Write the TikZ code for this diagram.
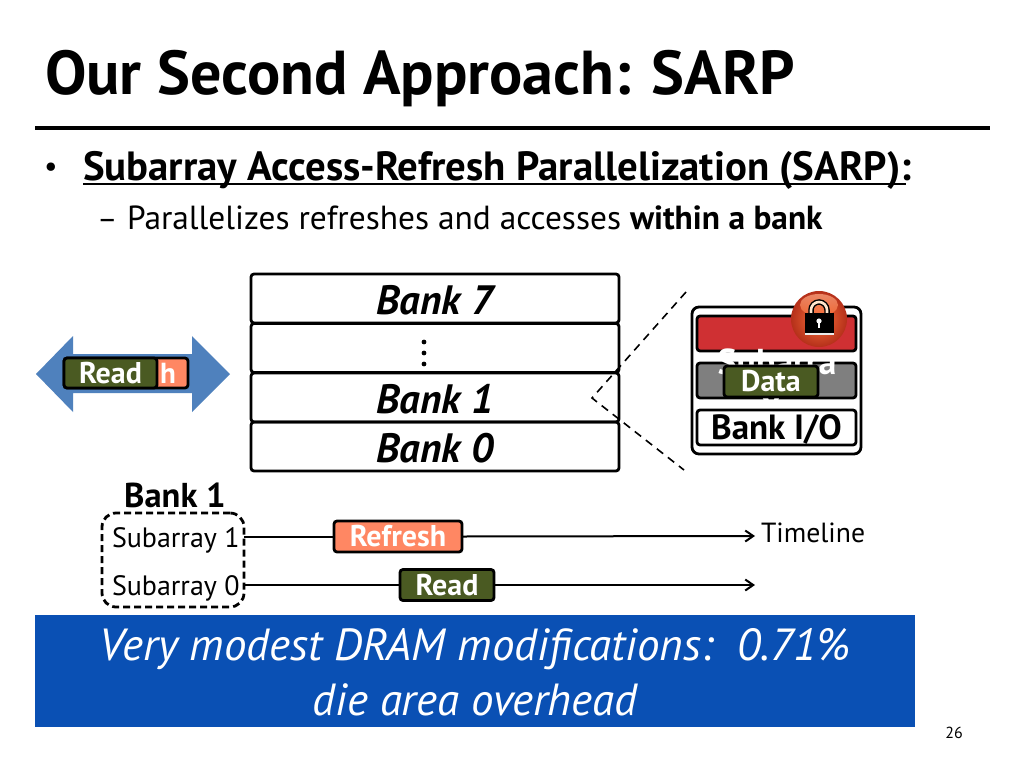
\documentclass[tikz,border=0pt]{standalone}
\usepackage{fontspec}
\setmainfont{PT Sans}
\usetikzlibrary{arrows.meta,shadings}
\definecolor{tealblue}{HTML}{0A50B4}
\definecolor{arrowblue}{HTML}{4F81BD}
\definecolor{readgreen}{HTML}{4A5A22}
\definecolor{refreshor}{HTML}{FF8763}
\definecolor{lockred}{HTML}{CF3033}
\definecolor{grayband}{HTML}{7F7F7F}
\definecolor{ballin}{HTML}{F8703A}
\definecolor{ballout}{HTML}{B5301A}
\tikzset{
  box/.style={draw=black,line width=2.8pt,rounded corners=3pt,inner sep=0pt,outer sep=0pt,align=center},
  bankbox/.style={box,minimum width=368pt,minimum height=49pt,font=\fontsize{41}{41}\selectfont\bfseries\itshape},
  banklabel/.style={inner sep=0pt,outer sep=0pt,font=\fontsize{41}{41}\selectfont\bfseries\itshape},
  tag/.style={box,text=white,font=\fontsize{30}{30}\selectfont\bfseries,minimum height=31pt},
  sub/.style={inner sep=0pt,outer sep=0pt,font=\fontsize{28}{28}\selectfont},
  cell/.style={box,minimum width=159pt,minimum height=35pt},
  tline/.style={line width=2pt,-{Straight Barb[length=8pt,width=11pt]}},
  bline/.style={line width=2pt},
  plain/.style={inner sep=0pt,outer sep=0pt}
}
\begin{document}
\begin{tikzpicture}[x=1pt,y=-1pt]
\useasboundingbox (0,0) rectangle (1024,768);
\fill[white] (0,0) rectangle (1024,768);
% header
\node[plain,anchor=base west] (title) at (45,94) {\fontsize{62}{62}\selectfont\bfseries Our Second Approach: SARP};
\coordinate (ruleL) at (35,128); \coordinate (ruleR) at (990,128);
\draw[line width=3.5pt] (ruleL) -- (ruleR);
\node[plain] (bullet) at (51,170) {\fontsize{30}{30}\selectfont •};
\node[plain,anchor=base west] (head) at (83,180) {\fontsize{40.8}{40.8}\selectfont\bfseries Subarray Access-Refresh Parallelization (SARP):};
\coordinate (ulL) at (83,184); \coordinate (ulR) at (906,184);
\draw[line width=2.5pt] (ulL) -- (ulR);
\node[plain,anchor=base west] (dash) at (97,229) {\fontsize{31}{31}\selectfont –};
\node[plain,anchor=base west] (subhead) at (127,229) {\fontsize{33.4}{33.4}\selectfont Parallelizes refreshes and accesses \textbf{within a bank}};
% double arrow
\fill[arrowblue] (36,374) -- (73,336) -- (73,354) -- (192,354) -- (192,336) -- (230,374) -- (192,412) -- (192,393) -- (73,393) -- (73,412) -- cycle;
\node[tag,fill=refreshor,minimum width=124pt,minimum height=30pt,anchor=center] (rfl) at (126,373) {\hspace*{84pt}\fontsize{29}{29}\selectfont h};
\node[tag,fill=readgreen,minimum width=93pt,minimum height=30pt] (rdl) at (110.5,373) {Read};
% banks
\node[bankbox] (b7) at (435,298.5) {};
\node[bankbox] (bd) at (435,348) {};
\node[bankbox] (b1) at (435,397.5) {};
\node[bankbox] (b0) at (435,446.5) {};
\node[banklabel] (t7) at (435,300.5) {Bank 7};
\node[banklabel] (t1) at (435,399.5) {Bank 1};
\node[banklabel] (t0) at (435,448) {Bank 0};
\foreach \yy in {342,353,364} \fill (424,\yy) circle (2.4pt);
% zoom lines
\coordinate (zt) at (686,292); \coordinate (zm) at (592,398); \coordinate (zb) at (684,470);
\draw[line width=1.6pt,dash pattern=on 8pt off 6pt] (zt) -- (zm) -- (zb);
% bank detail
\node[box,fill=white,minimum width=169pt,minimum height=147pt,rounded corners=7pt] (outer) at (776.5,380.5) {};
\node[cell,fill=lockred] (red) at (776.5,333.5) {};
\node[cell,fill=grayband] (gray) at (776.5,380.5) {};
\node[plain,text=white,anchor=base,font=\fontsize{36}{36}\selectfont\bfseries] (st) at (777,374) {Subarra};
\node[plain,text=white,anchor=base,font=\fontsize{36}{36}\selectfont\bfseries] (st2) at (771,414) {y};
\node[cell,fill=white] (io) at (776.5,427.5) {};
\node[plain,font=\fontsize{35}{35}\selectfont\bfseries] (iot) at (776.5,429) {Bank I/O};
\node[tag,fill=readgreen,minimum width=94pt] (data) at (771,381.5) {Data};
% lock
\shade[draw=none,outer color=ballout,inner color=ballin] (819,319) circle (28pt);
\shade[draw=none,top color=white!35!ballin,bottom color=ballin,opacity=.75] (819,305) ellipse (19pt and 11pt);
\draw[line width=5.5pt,draw=black] (811,314) -- (811,310) arc (180:0:8pt) -- (827,314);
\draw[line width=2.6pt,draw=white!80!orange] (811,314) -- (811,310) arc (180:0:8pt) -- (827,314);
\fill[black] (805,313) rectangle (834,333);
\fill[white!85!gray] (805,333) rectangle (834,334.5);
\fill[white] (819,321) circle (2.6pt);
\fill[white] (817.8,321) rectangle (820.2,328);
% timelines
\node[plain] (bk) at (175,495) {\fontsize{34.5}{34.5}\selectfont\bfseries Bank 1};
\node[box,dash pattern=on 7pt off 4pt,minimum width=142pt,minimum height=94pt,rounded corners=14pt] (grp) at (173,560) {};
\node[sub,anchor=base west] (s1) at (112,547) {Subarray 1};
\node[sub,anchor=base west] (s0) at (112,595) {Subarray 0};
\coordinate (e1) at (755,536); \coordinate (e0) at (755,585);
\node[tag,fill=refreshor,minimum width=128pt] (ref) at (398,536.5) {Refresh};
\node[tag,fill=readgreen,minimum width=94pt] (rd) at (447,585) {Read};
\draw[bline] (grp.east |- ref.west) -- (ref.west);
\draw[tline] (ref.east) -- (e1);
\draw[bline] (grp.east |- rd.west) -- (rd.west);
\draw[tline] (rd.east) -- (e0);
\node[plain,anchor=base west] (tl) at (761,542) {\fontsize{27.7}{27.7}\selectfont Timeline};
% banner
\node[fill=tealblue,minimum width=880pt,minimum height=112pt,inner sep=0pt,outer sep=0pt] (banner) at (475,671) {};
\node[plain,text=white,anchor=base] (l1) at (475,660) {\fontsize{45}{45}\selectfont\itshape Very modest DRAM modifications:\ \ 0.71\%};
\node[plain,text=white,anchor=base] (l2) at (475,715) {\fontsize{45}{45}\selectfont\itshape die area overhead};
\node[plain] (num) at (954,733) {\fontsize{16}{16}\selectfont 26};
\end{tikzpicture}
\end{document}
